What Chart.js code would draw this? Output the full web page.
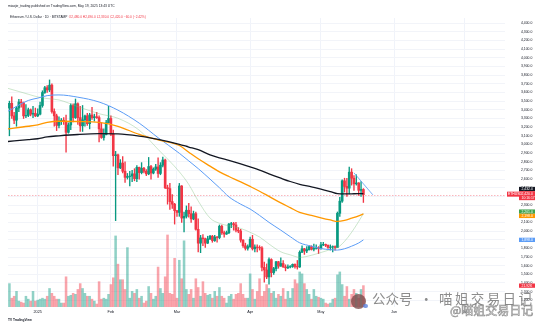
<!DOCTYPE html>
<html>
<head>
<meta charset="utf-8">
<script src="https://cdn.jsdelivr.net/npm/chart.js@4.4.1/dist/chart.umd.min.js"></script>
<style>
  html, body { margin: 0; padding: 0; background: #ffffff; }
  #wrap { position: relative; width: 545px; height: 325px; overflow: hidden;
          font-family: "Liberation Sans", Arial, sans-serif; color: #131722; }
  #c { position: absolute; left: 0; top: 0; }
  .txt { position: absolute; white-space: nowrap; line-height: 1; }
  #pub { left: 8px; top: 5.3px; font-size: 3.3px; color: #131722; }
  #legend { left: 10px; top: 15.6px; font-size: 3.2px; color: #131722; }
  #legend .vals { color: #f23645; margin-left: 1.5px; }
  #brand { left: 8px; top: 318.5px; font-size: 3.2px; font-weight: bold; color: #131722; }
  #wm1 { left: 372px; top: 292px; font-size: 13.5px; color: rgba(120,120,120,0.85);
         font-family: "Noto Sans CJK SC", sans-serif; }
  #wm1 .dot { margin: 0 6px 0 7px; }
  #wm1 .name { letter-spacing: 2.4px; }
  #wm2 { left: 450px; top: 304px; font-size: 12px; color: rgba(255,255,255,0.6);
         -webkit-text-stroke: 0.6px rgba(110,110,110,0.8);
         font-family: "Noto Sans CJK SC", sans-serif; }
  #avatar { position: absolute; left: 351px; top: 294px; width: 15px; height: 15px;
            border-radius: 50%; background: rgba(125,72,72,0.78); }
  #avatar i { position: absolute; left: 12px; top: 10px; width: 5px; height: 4px;
              border-radius: 2px; background: rgba(90,130,220,0.8); }
</style>
</head>
<body>
<div id="wrap">
  <canvas id="c" width="545" height="325"></canvas>
  <div id="pub" class="txt">miaojie_trading published on TradingView.com, May 19, 2025 13:43 UTC</div>
  <div id="legend" class="txt">Ethereum / U.S. Dollar · 1D · BITSTAMP<span class="vals" id="ohlc"></span></div>
  <div id="brand" class="txt">TV TradingView</div>
  <div id="avatar"><i></i></div>
  <div id="wm1" class="txt">公众号<span class="dot">·</span><span class="name">喵姐交易日记</span></div>
  <div id="wm2" class="txt">@喵姐交易日记</div>
</div>
<script>
// Daily ETH/USD candles, Dec 20 2024 .. May 19 2025 (x = days from Jan 1 2025)
const FIRST_DAY = -12;

const opens = [
  3420, 3475, 3330, 3280, 3420, 3490, 3480, 3330, 3335, 3400, 3350, 3360,
  3330, 3350, 3450, 3600, 3655, 3630, 3685, 3380, 3330, 3220, 3270, 3280, 3265, 3140, 3225, 3450, 3310, 3470, 3310, 3215,
  3285, 3330, 3240, 3340, 3310, 3320, 3310, 3180, 3080, 3115, 3250,
  3300, 3120, 2870, 2880, 2730, 2785, 2690, 2620, 2630, 2635, 2660, 2605, 2735, 2675, 2725, 2690, 2660, 2745, 2670, 2715,
  2740, 2665, 2760, 2820, 2500, 2490, 2340, 2310,
  2235, 2215, 2520, 2150, 2170, 2240, 2200, 2140, 2200, 2020, 1860, 1920, 1910, 1860, 1910, 1940, 1890, 1930, 1925, 2055,
  1980, 1965, 1980, 2080, 2085, 2070, 2010, 2000, 1895, 1830, 1800,
  1820, 1905, 1795, 1815, 1810, 1805, 1580, 1550, 1470, 1670, 1520, 1565, 1645, 1595, 1625, 1585, 1575, 1585, 1590, 1615,
  1590, 1585, 1755, 1795, 1770, 1785, 1820, 1790, 1800, 1805,
  1795, 1840, 1845, 1835, 1810, 1815, 1820, 1810, 2205, 2345, 2580, 2515, 2495, 2680, 2610, 2545, 2555, 2470, 2480
];
const highs = [
  3500, 3550, 3370, 3440, 3520, 3520, 3490, 3460, 3420, 3410, 3440, 3420,
  3410, 3490, 3620, 3670, 3680, 3745, 3700, 3410, 3350, 3320, 3300, 3310, 3340, 3250, 3470, 3470, 3525, 3480, 3440, 3450,
  3340, 3360, 3360, 3430, 3350, 3370, 3330, 3250, 3180, 3280, 3440,
  3330, 3165, 2920, 2890, 2825, 2860, 2800, 2665, 2690, 2700, 2720, 2755, 2740, 2790, 2735, 2710, 2850, 2760, 2730,
  2770, 2845, 2790, 2855, 2830, 2530, 2550, 2420, 2320,
  2240, 2550, 2525, 2220, 2290, 2320, 2280, 2230, 2220, 2140, 1950, 1960, 1920, 1940, 1950, 1950, 1950, 1940, 2070,
  2070, 2000, 2000, 2090, 2100, 2100, 2100, 2040, 2020, 1900, 1860, 1840,
  1930, 1950, 1840, 1840, 1830, 1820, 1640, 1620, 1690, 1680, 1580, 1650, 1650, 1690, 1660, 1610, 1610, 1600, 1620,
  1620, 1660, 1770, 1830, 1800, 1820, 1830, 1830, 1850, 1840, 1820,
  1870, 1870, 1850, 1840, 1840, 1830, 1830, 2220, 2390, 2590, 2610, 2610, 2740, 2720, 2640, 2650, 2560, 2570, 2490
];
const lows = [
  3100, 3300, 3240, 3210, 3380, 3430, 3300, 3310, 3320, 3330, 3310, 3320,
  3320, 3340, 3430, 3590, 3600, 3610, 3360, 3210, 3160, 3190, 3230, 3230, 2910, 3130, 3170, 3260, 3300, 3230, 3150, 3150,
  3210, 3220, 3180, 3290, 3270, 3300, 3030, 3070, 3050, 3110, 3250,
  3100, 2750, 2120, 2650, 2720, 2670, 2560, 2600, 2520, 2570, 2580, 2570, 2600, 2660, 2670, 2640, 2650, 2600, 2660,
  2700, 2620, 2650, 2740, 2490, 2310, 2250, 2260, 2080,
  2170, 2170, 2100, 1990, 2150, 2160, 2100, 2130, 2010, 1760, 1750, 1830, 1810, 1855, 1900, 1870, 1880, 1870, 1910,
  1960, 1930, 1960, 1970, 2040, 2010, 1990, 1980, 1870, 1810, 1780, 1780,
  1810, 1780, 1760, 1760, 1780, 1540, 1410, 1450, 1385, 1470, 1500, 1540, 1570, 1590, 1580, 1540, 1565, 1575, 1580,
  1570, 1560, 1580, 1750, 1730, 1750, 1780, 1780, 1770, 1790, 1740,
  1790, 1830, 1820, 1800, 1780, 1760, 1780, 1810, 2170, 2330, 2450, 2400, 2430, 2530, 2470, 2530, 2410, 2400, 2330
];
const closes = [
  3475, 3330, 3280, 3420, 3490, 3480, 3330, 3335, 3400, 3350, 3360, 3330,
  3350, 3450, 3600, 3655, 3630, 3685, 3380, 3330, 3220, 3270, 3280, 3265, 3140, 3225, 3450, 3310, 3470, 3310, 3215, 3285,
  3330, 3240, 3340, 3310, 3320, 3310, 3180, 3080, 3115, 3250, 3300,
  3120, 2870, 2880, 2730, 2785, 2690, 2620, 2630, 2635, 2660, 2605, 2735, 2675, 2725, 2690, 2660, 2745, 2670, 2715, 2740,
  2665, 2760, 2820, 2500, 2490, 2340, 2310, 2235,
  2215, 2520, 2150, 2170, 2240, 2200, 2140, 2200, 2020, 1860, 1920, 1910, 1860, 1910, 1940, 1890, 1930, 1925, 2055, 1980,
  1965, 1980, 2080, 2085, 2070, 2010, 2000, 1895, 1830, 1800, 1820,
  1905, 1795, 1815, 1810, 1805, 1580, 1550, 1470, 1670, 1520, 1565, 1645, 1595, 1625, 1585, 1575, 1585, 1590, 1615, 1590,
  1585, 1755, 1795, 1770, 1785, 1820, 1790, 1800, 1805, 1795,
  1840, 1845, 1835, 1810, 1815, 1820, 1810, 2205, 2345, 2580, 2515, 2495, 2680, 2610, 2545, 2555, 2470, 2480, 2420
];
// Volume, thousands of ETH
const volumesK = [
  24, 9, 11, 16, 6, 5, 4, 11, 8, 6, 16, 6,
  7, 8, 9, 8, 11, 19, 14, 11, 8, 8, 4, 4, 31, 11, 12, 14, 13, 18, 24, 19, 14, 11, 11, 8, 6, 3, 26, 8, 9, 8, 13,
  23, 30, 73, 44, 28, 28, 18, 61, 9, 16, 14, 18, 9, 11, 4, 6, 21, 14, 8, 11, 41, 19, 14, 31, 74, 14, 13, 50,
  9, 48, 29, 68, 18, 13, 18, 9, 29, 20, 11, 26, 14, 12, 13, 9, 16, 11, 20, 11, 9, 4, 11, 13, 8, 13, 14, 24, 13, 9, 9,
  34, 18, 8, 16, 29, 11, 16, 23, 19, 14, 16, 9, 13, 11, 19, 8, 16, 9, 19, 28, 24, 36, 34, 24, 18, 13, 8, 18, 11, 10,
  9, 8, 4, 3, 4, 8, 9, 33, 36, 23, 11, 21, 8, 13, 18, 14, 9, 18, 21.92
];

// Moving averages, sampled on these days
const maDays = [-13, -4, 0, 4, 9, 17, 26, 34, 43, 51, 60, 64, 68, 73, 77, 81, 86, 90, 94, 98, 103, 107, 111, 116, 120, 124, 127, 130, 133, 136, 138];
const maBlack = [3033, 3055, 3066, 3088, 3100, 3115, 3124, 3122, 3097, 3058, 3002, 2970, 2939, 2880, 2845, 2816, 2775, 2740, 2703, 2660, 2610, 2572, 2540, 2510, 2485, 2455, 2431, 2428, 2430, 2432, 2432];
const maOrange = [3179, 3210, 3227, 3255, 3268, 3265, 3254, 3209, 3115, 3052, 2988, 2910, 2834, 2750, 2684, 2630, 2568, 2515, 2460, 2400, 2325, 2270, 2216, 2180, 2153, 2128, 2111, 2122, 2148, 2176, 2198];
const maBlue = [3378, 3508, 3535, 3564, 3572, 3546, 3490, 3396, 3246, 3078, 2898, 2810, 2721, 2600, 2500, 2395, 2310, 2254, 2180, 2100, 2010, 1935, 1864, 1825, 1797, 1785, 1780, 1795, 1825, 1862, 1898];
const maGreen = [3651, 3580, 3549, 3530, 3514, 3437, 3355, 3302, 3165, 2943, 2684, 2538, 2347, 2150, 2089, 2060, 2030, 1985, 1931, 1850, 1760, 1725, 1696, 1720, 1752, 1785, 1808, 1880, 1985, 2110, 2201];

// Down-sloping trend line drawn from the May high
const trendDays = [134, 142];
const trendPrices = [2672, 2418];

const monthDays = [0, 31, 59, 90, 120, 151, 181];
const monthLabels = ['2025', 'Feb', 'Mar', 'Apr', 'May', 'Jun', 'Jul'];

const UP = '#089981', DOWN = '#f23645';
const days = closes.map((_, i) => FIRST_DAY + i);
const isUp = closes.map((c, i) => c >= opens[i]);
const fmt = v => v.toLocaleString('en-US', { minimumFractionDigits: 1, maximumFractionDigits: 1 });

// legend line values
(function () {
  const n = closes.length - 1;
  const chg = closes[n] - closes[n - 1];
  const pct = chg / closes[n - 1] * 100;
  const sign = chg < 0 ? '\u2212' : '+';
  document.getElementById('ohlc').textContent =
    'O' + fmt(opens[n]) + ' H' + fmt(highs[n]) + ' L' + fmt(lows[n]) + ' C' + fmt(closes[n]) +
    ' ' + sign + fmt(Math.abs(chg)) + ' (' + sign + Math.abs(pct).toFixed(2) + '%)';
})();

const line = (vals, color, width, order) => ({
  type: 'line', yAxisID: 'y', order,
  data: maDays.map((d, i) => ({ x: d, y: vals[i] })),
  borderColor: color, borderWidth: width, pointRadius: 0, fill: false,
  cubicInterpolationMode: 'monotone'
});

// last-value tags on the price scale, plus the dashed last-price line
const scaleTags = {
  id: 'scaleTags',
  beforeDatasetsDraw(chart) {
    const { ctx, chartArea: a, scales: { y } } = chart;
    const py = Math.round(y.getPixelForValue(closes[closes.length - 1])) + 0.5;
    ctx.save();
    ctx.strokeStyle = 'rgba(242,54,69,0.6)';
    ctx.lineWidth = 0.6;
    ctx.setLineDash([1.5, 1.5]);
    ctx.beginPath(); ctx.moveTo(a.left, py); ctx.lineTo(a.right, py); ctx.stroke();
    ctx.restore();
  },
  afterDraw(chart) {
    const { ctx, chartArea: a, scales: { y, yv } } = chart;
    const bx = a.right + 14, bw = 16, th = 4.3;
    const last = closes[closes.length - 1];
    const py = y.getPixelForValue(last);
    const pTop = py - 3.5, pBot = py + 5.5;
    const tags = [
      { v: maBlack[maBlack.length - 1], bg: '#131722' },
      { v: maGreen[maGreen.length - 1], bg: '#3fa34d' },
      { v: maOrange[maOrange.length - 1], bg: '#ff9800' },
      { v: maBlue[maBlue.length - 1], bg: '#5b9cf6' }
    ].map(t => ({ ...t, c: y.getPixelForValue(t.v) }));
    // keep tags off the price tag
    tags.forEach(t => {
      if (t.c + th / 2 > pTop && t.c - th / 2 < pBot) {
        t.c = t.c < (pTop + pBot) / 2 ? pTop - th / 2 : pBot + th / 2;
      }
    });
    // spread overlapping tags
    for (let k = 0; k < 6; k++) {
      tags.sort((p, q) => p.c - q.c);
      for (let i = 1; i < tags.length; i++) {
        const gap = tags[i].c - tags[i - 1].c;
        if (gap < th) {
          const m = (tags[i].c + tags[i - 1].c) / 2;
          tags[i - 1].c = m - th / 2; tags[i].c = m + th / 2;
        }
      }
    }
    ctx.save();
    ctx.font = '3.4px "Liberation Sans", Arial, sans-serif';
    ctx.textBaseline = 'middle';
    ctx.textAlign = 'left';
    const tag = (c, h, bg, text) => {
      ctx.fillStyle = bg;
      ctx.fillRect(bx, c - h / 2, bw, h);
      ctx.fillStyle = '#ffffff';
      ctx.fillText(text, bx + 2.5, c + 0.2);
    };
    tags.forEach(t => tag(t.c, th, t.bg, fmt(t.v)));
    // price tag: symbol box, price and time to close
    ctx.fillStyle = DOWN;
    ctx.fillRect(bx - 12, pTop + 0.5, 12, 5);
    ctx.fillRect(bx, pTop, bw, pBot - pTop);
    ctx.fillStyle = '#ffffff';
    ctx.fillText('ETHUSD', bx - 11, pTop + 3.1);
    ctx.fillText(fmt(last), bx + 2.5, pTop + 2.4);
    ctx.fillText('10:16:17', bx + 2.5, pTop + 6.6);
    // volume tag
    const lastVol = volumesK[volumesK.length - 1];
    tag(yv.getPixelForValue(lastVol), th, isUp[isUp.length - 1] ? UP : DOWN, lastVol.toFixed(2) + 'K');
    ctx.restore();
  }
};

new Chart(document.getElementById('c'), {
  data: {
    datasets: [
      { type: 'bar', label: 'Volume', yAxisID: 'yv', order: 9, grouped: false,
        data: days.map((d, i) => ({ x: d, y: volumesK[i] })),
        backgroundColor: isUp.map(u => u ? 'rgba(8,153,129,0.45)' : 'rgba(242,54,69,0.45)'),
        barThickness: 1.9 },
      { type: 'bar', label: 'Wick', yAxisID: 'y', order: 8, grouped: false,
        data: days.map((d, i) => ({ x: d, y: [lows[i], highs[i]] })),
        backgroundColor: isUp.map(u => u ? UP : DOWN), barThickness: 0.7 },
      { type: 'bar', label: 'Body', yAxisID: 'y', order: 7, grouped: false,
        data: days.map((d, i) => ({ x: d, y: [opens[i], closes[i]] })),
        backgroundColor: isUp.map(u => u ? UP : DOWN), barThickness: 2 },
      line(maGreen, 'rgba(120,190,120,0.55)', 0.7, 4),
      line(maBlue, '#5b9cf6', 1, 3),
      line(maOrange, '#ff9800', 1.3, 2),
      line(maBlack, '#131722', 1.3, 1),
      { type: 'line', yAxisID: 'y', order: 0,
        data: trendDays.map((d, i) => ({ x: d, y: trendPrices[i] })),
        borderColor: '#5b9cf6', borderWidth: 0.8, pointRadius: 0, fill: false }
    ]
  },
  options: {
    responsive: false, animation: false, devicePixelRatio: 1, events: [],
    layout: { padding: { top: 12, left: 8, right: 0, bottom: 0 } },
    plugins: { legend: { display: false }, tooltip: { enabled: false } },
    scales: {
      x: {
        type: 'linear', min: -12.6, max: 198, offset: false,
        grid: { color: '#f0f3fa', lineWidth: 1, drawTicks: false, offset: false },
        border: { display: false },
        afterBuildTicks: s => { s.ticks = monthDays.map(v => ({ value: v })); },
        afterFit: s => { s.height = 16; },
        ticks: {
          autoSkip: false, maxRotation: 0, padding: 2.5, color: '#131722',
          font: { size: 3.8, family: '"Liberation Sans", Arial, sans-serif' },
          callback: v => monthLabels[monthDays.indexOf(v)]
        }
      },
      y: {
        type: 'linear', position: 'right', min: 1123, max: 4460, beginAtZero: false,
        grid: { color: '#f2f4f9', lineWidth: 1, drawTicks: false },
        border: { display: false },
        afterFit: s => { s.width = 40; },
        ticks: {
          stepSize: 100, includeBounds: false, autoSkip: false, padding: 16, color: '#131722',
          font: { size: 3.4, family: '"Liberation Sans", Arial, sans-serif' },
          callback: v => fmt(v)
        }
      },
      yv: { type: 'linear', display: false, min: 0, max: 297, beginAtZero: true }
    }
  },
  plugins: [scaleTags]
});
</script>
</body>
</html>
